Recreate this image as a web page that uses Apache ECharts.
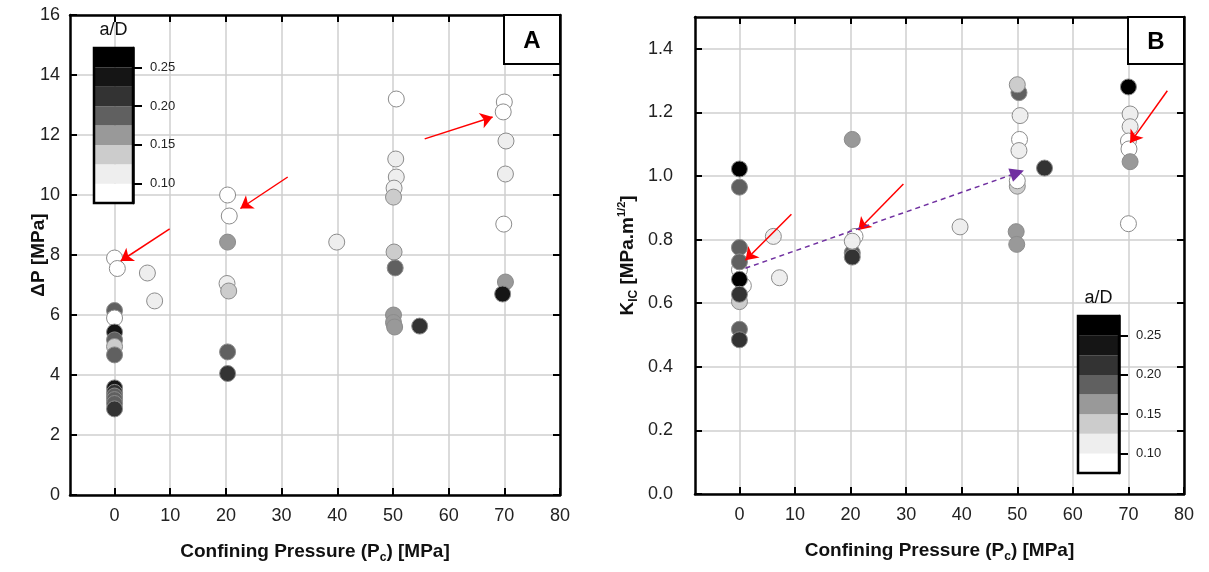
<!DOCTYPE html>
<html>
<head>
<meta charset="utf-8">
<script src="https://cdn.jsdelivr.net/npm/echarts@6/dist/echarts.min.js"></script>
<style>
  html, body { margin: 0; background: #fff; }
  #chart { width: 1209px; height: 572px; }
</style>
</head>
<body>
<div id="chart"></div>
<script>
// panel A - pressure drop vs confining pressure
const pcA = [0, 0.5, 5.9, 7.2, 0, 0, 0, 0, 0, 0,
  0, 0, 0, 0, 0, 0,
  20.3, 20.6, 20.3, 20.2, 20.5, 20.3, 20.3,
  39.9,
  50.6, 50.5, 50.6, 50.2, 50.1, 50.2, 50.4, 50.1, 50.1, 50.3, 54.8,
  70, 69.8, 70.3, 70.2, 69.9, 70.2, 69.7];
const dpA = [7.9, 7.55, 7.4, 6.47, 6.15, 5.9, 5.43, 5.17, 4.95, 4.67,
  3.57, 3.42, 3.3, 3.18, 3.05, 2.87,
  10.0, 9.3, 8.43, 7.05, 6.8, 4.77, 4.05,
  8.43,
  13.2, 11.2, 10.6, 10.23, 9.93, 8.1, 7.57, 6.0, 5.75, 5.6, 5.63,
  13.1, 12.77, 11.8, 10.7, 9.03, 7.1, 6.7];
const adA = [0.09, 0.09, 0.11, 0.11, 0.19, 0.09, 0.24, 0.19, 0.14, 0.19,
  0.24, 0.21, 0.19, 0.19, 0.19, 0.21,
  0.09, 0.09, 0.16, 0.11, 0.14, 0.19, 0.21,
  0.11,
  0.09, 0.11, 0.11, 0.11, 0.14, 0.14, 0.19, 0.16, 0.16, 0.16, 0.21,
  0.09, 0.09, 0.11, 0.11, 0.09, 0.16, 0.24];

// panel B - fracture toughness vs confining pressure
const pcB = [0, 0.7, 0, 0, 0, 0, 0, 0, 0, 0, 0,
  6.1, 7.2,
  20.3, 20.3, 20.3, 20.8, 20.3,
  39.7,
  50.3, 50, 50.5, 50.4, 50.3, 50, 50, 49.8, 49.9, 54.9,
  70, 70.3, 70.3, 70, 70.1, 70.3, 70];
const kB = [0.705, 0.655, 0.605, 1.022, 0.965, 0.775, 0.73, 0.675, 0.628, 0.518, 0.485,
  0.81, 0.68,
  1.115, 0.758, 0.745, 0.81, 0.795,
  0.84,
  1.262, 1.287, 1.19, 1.115, 1.08, 0.968, 0.985, 0.825, 0.785, 1.025,
  1.28, 1.195, 1.155, 1.11, 1.085, 1.045, 0.85];
const adB = [0.09, 0.09, 0.14, 0.26, 0.19, 0.19, 0.19, 0.26, 0.21, 0.19, 0.21,
  0.11, 0.11,
  0.16, 0.19, 0.21, 0.09, 0.11,
  0.11,
  0.19, 0.14, 0.11, 0.09, 0.11, 0.14, 0.09, 0.16, 0.16, 0.21,
  0.26, 0.11, 0.11, 0.09, 0.09, 0.16, 0.09];

// a/D colour scale
const adBreaks = [0.1, 0.125, 0.15, 0.175, 0.2, 0.225, 0.25];
const adGrays = ['#ffffff', '#eeeeee', '#cccccc', '#999999', '#606060', '#333333', '#151515', '#000000'];
const adTicks = [0.1, 0.15, 0.2, 0.25];
const adRange = [0.075, 0.275];

const pcTicks = [0, 10, 20, 30, 40, 50, 60, 70, 80];
const kTicks = [0, 0.2, 0.4, 0.6, 0.8, 1.0, 1.2, 1.4];

// annotation arrows [x0, y0, x1, y1] in data coords
const arrowsA = [[9.9, 8.87, 1.1, 7.8], [31.1, 10.6, 22.6, 9.55], [55.7, 11.87, 67.9, 12.6]];
const arrowsB = [[9.35, 0.88, 1.08, 0.735], [29.5, 0.975, 21.4, 0.83], [77, 1.268, 70.3, 1.104]];
const trendB = [1.08, 0.71, 50, 1.01];

const font = 'Liberation Sans, Arial, sans-serif';
const chart = echarts.init(document.getElementById('chart'));

const frameLine = { show: true, onZero: false, lineStyle: { color: '#000', width: 2.5 } };
const inTick = { show: true, inside: true, length: 7, lineStyle: { color: '#000', width: 2 } };
const grid = { show: true, lineStyle: { color: '#cfcfcf', width: 1.5 } };

const pieces = adGrays.map((c, i) => ({
  gte: i ? adBreaks[i - 1] : -1,
  lt: i < adBreaks.length ? adBreaks[i] : 1,
  color: c
}));

const titleRich = {
  b: { fontSize: 19, fontWeight: 'bold', fontFamily: font, color: '#111' },
  sub: { fontSize: 12, fontWeight: 'bold', fontFamily: font, color: '#111', padding: [12, 0, 0, 0] },
  sup: { fontSize: 11, fontWeight: 'bold', fontFamily: font, color: '#111', padding: [0, 0, 12, 0] }
};
const pcName = '{b|Confining Pressure (P}{sub|c}{b|) [MPa]}';

function xPair(gi) {
  return [
    {
      gridIndex: gi, type: 'value', min: -8, max: 80, splitNumber: 9, position: 'bottom',
      axisLine: frameLine,
      axisTick: Object.assign({ customValues: pcTicks }, inTick),
      axisLabel: { customValues: pcTicks, fontSize: 18, color: '#222', fontFamily: font, margin: 12 },
      splitLine: grid,
      name: pcName, nameLocation: 'middle', nameGap: 45,
      nameTextStyle: { rich: titleRich }
    },
    {
      gridIndex: gi, type: 'value', min: -8, max: 80, splitNumber: 9, position: 'top',
      axisLine: frameLine,
      axisTick: Object.assign({ customValues: pcTicks }, inTick),
      axisLabel: { show: false }, splitLine: { show: false }
    }
  ];
}

function cbAxes(gi) {
  return {
    x: {
      gridIndex: gi, type: 'category', data: [''], position: 'top',
      axisLine: { show: false }, axisTick: { show: false }, axisLabel: { show: false },
      name: 'a/D', nameLocation: 'middle', nameGap: 9,
      nameTextStyle: { fontSize: 18, fontFamily: font, color: '#111' }
    },
    y: {
      gridIndex: gi, type: 'value', min: adRange[0], max: adRange[1], position: 'right', z: 6,
      axisLine: { show: true, lineStyle: { color: '#000', width: 2.5 } },
      axisTick: { show: true, customValues: adTicks, length: 9, lineStyle: { color: '#000', width: 2 } },
      axisLabel: { customValues: adTicks, fontSize: 13, color: '#222', fontFamily: font, margin: 17,
        formatter: v => v.toFixed(2) },
      splitLine: { show: false }
    }
  };
}

const cbA = cbAxes(2), cbB = cbAxes(3);

function colorBar(axisIdx, stack) {
  return adGrays.map((c, i) => {
    const lo = i ? adBreaks[i - 1] : 0;
    const hi = i < adBreaks.length ? adBreaks[i] : adRange[1];
    return {
      type: 'bar', xAxisIndex: axisIdx, yAxisIndex: axisIdx, stack: stack,
      barWidth: '100%', silent: true, z: 1,
      itemStyle: { color: c }, data: [hi - lo]
    };
  });
}

function arrowLines(list) {
  return list.map(a => [{ coord: [a[0], a[1]] }, { coord: [a[2], a[3]] }]);
}

const dotStyle = { opacity: 1, borderColor: '#8c8c8c', borderWidth: 1 };
const redArrow = { silent: true, symbol: ['none', 'arrow'], symbolSize: 12, label: { show: false },
  lineStyle: { color: '#ff0000', width: 1.5, type: 'solid' } };

const option = {
  animation: false,
  backgroundColor: '#fff',
  grid: [
    { left: 70, top: 15, width: 490, height: 480 },
    { left: 695, top: 17, width: 489, height: 477 },
    { left: 94, top: 48, width: 39, height: 155, show: true, borderColor: '#000', borderWidth: 2.5, z: 6 },
    { left: 1078, top: 316, width: 41, height: 157, show: true, borderColor: '#000', borderWidth: 2.5, z: 6 }
  ],
  xAxis: [...xPair(0), ...xPair(1), cbA.x, cbB.x],
  yAxis: [
    {
      gridIndex: 0, type: 'value', min: 0, max: 16, interval: 2, position: 'left',
      axisLine: frameLine, axisTick: inTick,
      axisLabel: { fontSize: 18, color: '#222', fontFamily: font, margin: 10 },
      splitLine: grid,
      name: 'ΔP [MPa]', nameLocation: 'middle', nameGap: 22, nameMoveOverlap: false,
      nameTextStyle: { fontSize: 19, fontWeight: 'bold', fontFamily: font, color: '#111' }
    },
    {
      gridIndex: 0, type: 'value', min: 0, max: 16, interval: 2, position: 'right',
      axisLine: frameLine, axisTick: inTick, axisLabel: { show: false }, splitLine: { show: false }
    },
    {
      gridIndex: 1, type: 'value', min: 0, max: 1.5, interval: 0.2, position: 'left',
      axisLine: frameLine,
      axisTick: Object.assign({ customValues: kTicks }, inTick),
      axisLabel: { customValues: kTicks, fontSize: 18, color: '#222', fontFamily: font, margin: 22,
        formatter: v => v.toFixed(1) },
      splitLine: grid,
      name: '{b|K}{sub|IC}{b| [MPa.m}{sup|1/2}{b|]}', nameLocation: 'middle', nameGap: 55,
      nameTextStyle: { rich: titleRich }
    },
    {
      gridIndex: 1, type: 'value', min: 0, max: 1.5, interval: 0.2, position: 'right',
      axisLine: frameLine,
      axisTick: Object.assign({ customValues: kTicks }, inTick),
      axisLabel: { show: false }, splitLine: { show: false }
    },
    cbA.y, cbB.y
  ],
  visualMap: {
    type: 'piecewise', show: false, dimension: 2, seriesIndex: [0, 1], pieces: pieces
  },
  graphic: [
    { type: 'rect', z: 20, shape: { x: 504, y: 15, width: 56, height: 49 },
      style: { fill: '#fff', stroke: '#000', lineWidth: 2 } },
    { type: 'text', z: 21, x: 532, y: 41,
      style: { text: 'A', font: 'bold 24px Liberation Sans, Arial', fill: '#000', align: 'center', verticalAlign: 'middle' } },
    { type: 'rect', z: 20, shape: { x: 1128, y: 17, width: 56, height: 47 },
      style: { fill: '#fff', stroke: '#000', lineWidth: 2 } },
    { type: 'text', z: 21, x: 1156, y: 42,
      style: { text: 'B', font: 'bold 24px Liberation Sans, Arial', fill: '#000', align: 'center', verticalAlign: 'middle' } }
  ],
  series: [
    {
      type: 'scatter', xAxisIndex: 0, yAxisIndex: 0, symbolSize: 16, z: 3,
      itemStyle: dotStyle,
      data: pcA.map((x, i) => [x, dpA[i], adA[i]]),
      markLine: Object.assign({ data: arrowLines(arrowsA) }, redArrow)
    },
    {
      type: 'scatter', xAxisIndex: 2, yAxisIndex: 2, symbolSize: 16, z: 3,
      itemStyle: dotStyle,
      data: pcB.map((x, i) => [x, kB[i], adB[i]]),
      markLine: Object.assign({
        data: arrowLines(arrowsB).concat([[
          { coord: [trendB[0], trendB[1]], lineStyle: { color: '#7030a0', width: 1.5, type: [5, 4] } },
          { coord: [trendB[2], trendB[3]], symbol: 'triangle', symbolSize: 14 }
        ]])
      }, redArrow)
    },
    ...colorBar(4, 'cbA'),
    ...colorBar(5, 'cbB')
  ]
};

chart.setOption(option);
window.addEventListener('resize', () => chart.resize());
</script>
</body>
</html>
